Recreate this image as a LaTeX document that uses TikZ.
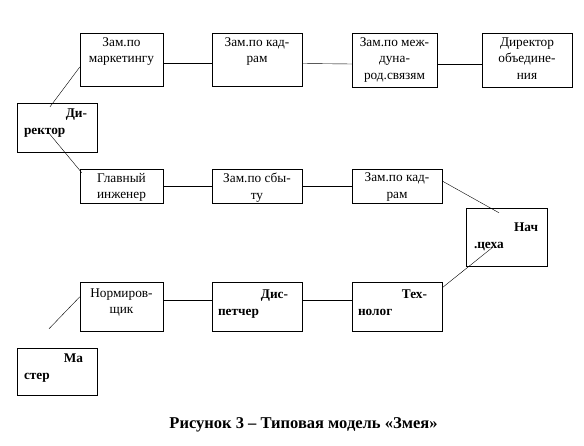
\documentclass[tikz,border=0pt]{standalone}
\usepackage{fontspec}
\setmainfont{Liberation Serif}
\newcommand{\boxtxt}[3]{\parbox[c][#2][t]{#1}{#3}}

\begin{document}
\begin{tikzpicture}[x=1pt,y=-1pt,
    blk/.style={draw, inner sep=0pt, font=\fontsize{13.3}{16.5}\selectfont}]
            \useasboundingbox (0,0) rectangle (584,446);

            \node[blk] (a1) at (57,127.5) {\boxtxt{80pt}{49pt}{\bfseries\vspace*{6pt}\hfill Ди-\hspace*{10pt}\\\hspace*{7pt}ректор}};
            \node[blk] (m1) at (121.5,59.5) {\boxtxt{83pt}{53pt}{\centering\vspace*{4.5pt}Зам.по\\маркетингу}};
            \node[blk] (k1) at (257,59.5) {\boxtxt{90pt}{53pt}{\centering\vspace*{4.5pt}Зам.по кад-\\рам}};
            \node[blk] (v1) at (394.5,60) {\boxtxt{85pt}{54pt}{\centering\vspace*{4.5pt}Зам.по меж-\\дуна-\\род.связям}};
            \node[blk] (d1) at (527,60) {\boxtxt{90pt}{54pt}{\centering\vspace*{4.5pt}Директор\\объедине-\\ния}};
            \node[blk] (g1) at (121.5,186) {\boxtxt{83pt}{34pt}{\centering\vspace*{4pt}Главный\\инженер}};
            \node[blk] (s2) at (257,186) {\boxtxt{90pt}{34pt}{\centering\vspace*{4pt}Зам.по сбы-\\ту}};
            \node[blk] (k2) at (397,186) {\boxtxt{90pt}{34pt}{\centering\vspace*{4pt}Зам.по кад-\\рам}};
            \node[blk] (n1) at (506.5,237) {\boxtxt{81pt}{58pt}{\bfseries\vspace*{15pt}\hfill Нач\hspace*{9pt}\\\hspace*{8pt}.цеха}};
            \node[blk] (t1) at (397,306.5) {\boxtxt{90pt}{49pt}{\bfseries\vspace*{8pt}\hfill Тех-\hspace*{15pt}\\\hspace*{6pt}нолог}};
            \node[blk] (p1) at (257,306.5) {\boxtxt{90pt}{49pt}{\bfseries\vspace*{8pt}\hfill Дис-\hspace*{14pt}\\\hspace*{6pt}петчер}};
            \node[blk] (r1) at (121.5,306.5) {\boxtxt{83pt}{49pt}{\centering\vspace*{6.5pt}Нормиров-\\щик}};
            \node[blk] (s1) at (57,371.5) {\boxtxt{80pt}{47pt}{\bfseries\vspace*{6pt}\hfill Ма\hspace*{14pt}\\\hspace*{7pt}стер}};

            \node[font=\bfseries\fontsize{16.5}{19}\selectfont] (c1) at (303.5,425) {Рисунок 3 – Типовая модель «Змея»};

            \draw[-] ([yshift=-4pt]m1.east) -- ([yshift=-4pt]k1.west);
            \draw[-] ([yshift=-4pt]k1.east) -- ([yshift=-4pt]v1.west);
            \draw[-] ([yshift=-4pt]v1.east) -- ([yshift=-4pt]d1.west);
            \draw[-] (g1) -- (s2);
            \draw[-] (s2) -- (k2);
            \draw[-] ([yshift=6pt]r1.east) -- ([yshift=6pt]p1.west);
            \draw[-] ([yshift=6pt]p1.east) -- ([yshift=6pt]t1.west);
            \draw[-] ([xshift=-7pt,yshift=-4pt]a1.north) -- ([yshift=-7.5pt]m1.west);
            \draw[-] ([xshift=-9pt,yshift=-4.5pt]a1.center) -- ([xshift=2pt,yshift=-4pt]g1.north west);
            \draw[-] ([yshift=5pt]k2.east) -- ([xshift=-7.5pt,yshift=-5pt]n1.north);
            \draw[-] ([yshift=-6pt]t1.north east) -- ([xshift=-13.5pt,yshift=-10pt]n1.center);
            \draw[-] ([yshift=-15pt]r1.north west) -- ([xshift=-8pt,yshift=19pt]s1.north);
        \end{tikzpicture}
\end{document}
